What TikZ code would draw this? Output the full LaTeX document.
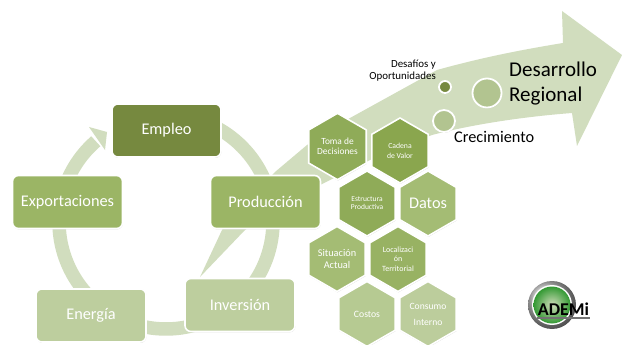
\documentclass[tikz,border=0pt]{standalone}
\usepackage{fontspec}
\setmainfont{Carlito}
\usetikzlibrary{shapes.geometric,shadows,arrows.meta}
\definecolor{bandc}{HTML}{D1DDBE}
\definecolor{dgreen}{HTML}{76893F}
\definecolor{mgreen}{HTML}{9BB565}
\definecolor{lgreen}{HTML}{BDCE9E}
\definecolor{HexA}{HTML}{8FAB58}
\definecolor{HexB}{HTML}{8AA64E}
\definecolor{HexC}{HTML}{A4BC74}
\definecolor{HexD}{HTML}{98B263}
\definecolor{HexE}{HTML}{B6CA92}
\definecolor{HexF}{HTML}{BCCD9C}
\tikzset{
  softshadow/.style={drop shadow={shadow xshift=0.4pt,shadow yshift=-0.9pt,opacity=.25,fill=black!60}},
  stagebox/.style={draw=white,line width=1.6pt,rounded corners=6pt,minimum width=#1,minimum height=53pt,inner sep=0pt,
    text=white,font=\fontsize{16.3}{18}\selectfont,softshadow},
  stagebox/.default=110pt,
  hexa/.style={regular polygon,regular polygon sides=6,shape border rotate=30,minimum size=65pt,inner sep=0pt,draw=white,line width=1.6pt,
    text=white,align=center,softshadow},
  spot/.style={circle,draw=white,line width=1.8pt,inner sep=0pt,softshadow},
  darktxt/.style={text=black,inner sep=0pt}
}
\begin{document}
\begin{tikzpicture}[x=1pt,y=-1pt]
\useasboundingbox (0,0) rectangle (622,345);
\fill[white] (0,0) rectangle (622,345);
\clip (0,0) rectangle (622,345);
% ring
\coordinate (ringc) at (166,222);
\draw[bandc,line width=13.5pt] plot[domain=-90:229,samples=120] ({166+107*cos(\x)},{222+107*sin(\x)});
\coordinate (tipA) at (107,132);
\coordinate (tipB) at (89,127);
\coordinate (tipC) at (105,150);
\fill[bandc] (tipA) -- (tipB) -- (tipC) -- cycle;
% big arrow
\fill[bandc] (200,277) -- (222,230) -- (275,172) -- (307,145) -- (350,118) -- (437,70)
  .. controls (480,58) and (520,50) .. (563,43) -- (562,11) -- (622,55) -- (577,146) -- (572,113)
  .. controls (520,117) and (470,125) .. (432,135) -- (380,155) -- (300,195) -- (245,230) -- cycle;
% stages
\node[stagebox,fill=dgreen,minimum width=109pt] (empleo) at (166.5,130.5) {Empleo};
\node[stagebox,fill=mgreen] (export) at (67.5,202) {Exportaciones};
\node[stagebox,fill=mgreen] (produc) at (265.5,202) {Producción};
\node[stagebox,fill=lgreen] (energia) at (91,315.5) {Energía};
\node[stagebox,fill=lgreen] (inversion) at (240,305) {Inversión};
% hexagons
\node[hexa,fill=HexA,font=\fontsize{9.4}{10.5}\selectfont] (toma) at (337.5,146.5) {Toma de\\Decisiones};
\node[hexa,fill=HexB,font=\fontsize{7.7}{10}\selectfont] (cadena) at (400,150.5) {Cadena\\de Valor};
\node[hexa,fill=HexA,font=\fontsize{7.5}{8}\selectfont] (estruct) at (367,203.5) {Estructura\\Productiva};
\node[hexa,fill=HexC,font=\fontsize{16.3}{18}\selectfont] (datos) at (428,203.5) {Datos};
\node[hexa,fill=HexC,font=\fontsize{10.3}{11.5}\selectfont] (situ) at (337,259) {Situación\\Actual};
\node[hexa,fill=HexD,font=\fontsize{8}{9.5}\selectfont] (local) at (398,259) {Localizaci\\ón\\Territorial};
\node[hexa,fill=HexE,font=\fontsize{9.7}{11}\selectfont] (costos) at (367,314) {Costos};
\node[hexa,fill=HexF,font=\fontsize{9.6}{16}\selectfont] (consumo) at (428,314) {Consumo\\Interno};
% spots
\node[spot,fill=dgreen,minimum size=12pt] (s1) at (445,87) {};
\node[spot,fill=lgreen!85!dgreen,minimum size=29pt] (s2) at (487,93) {};
\node[spot,fill=lgreen!85!dgreen,minimum size=22pt] (s3) at (444,121) {};
\node[darktxt,align=right,anchor=east,font=\fontsize{10.9}{12}\selectfont] (t1) at (436,71) {Desafíos y\\Oportunidades};
\node[darktxt,align=left,anchor=west,font=\fontsize{21}{25}\selectfont] (t2) at (509,84) {Desarrollo\\Regional};
\node[darktxt,anchor=west,font=\fontsize{16.3}{18}\selectfont] (t3) at (454,137) {Crecimiento};
% logo
\shade[ball color=gray!45] (552,305) circle (24pt);
\fill[white] (552,305) circle (20pt);
\shade[inner color=lgreen!70!white,outer color=green!50!black!80] (552,305) circle (18.5pt);
\node[inner sep=0pt,font=\fontsize{18}{18}\selectfont\bfseries] (logo) at (563.5,309) {ADEMi};
\fill[black!55] (537,317) rectangle (590,318.5);
\end{tikzpicture}
\end{document}
